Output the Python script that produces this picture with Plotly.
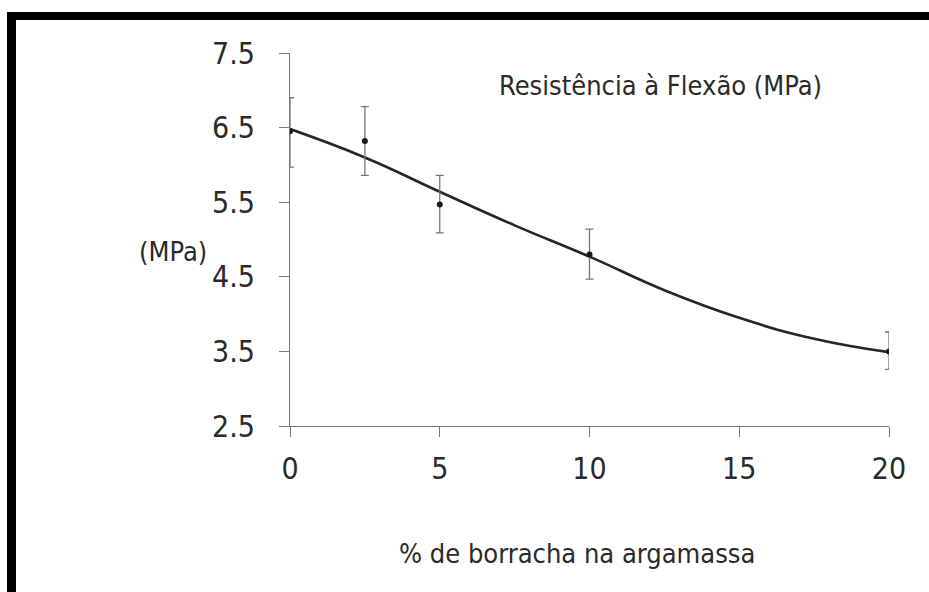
import plotly.graph_objects as go

# ---- data ----
pct_points = [0, 2.5, 5, 10, 20]
strength_mean = [6.45, 6.32, 5.47, 4.80, 3.50]
err_plus = [0.45, 0.46, 0.39, 0.34, 0.26]
err_minus = [0.48, 0.46, 0.38, 0.33, 0.24]

curve_x = [0, 2.5, 5, 7.5, 10, 12.5, 15, 17.5, 20]
curve_y = [6.48, 6.10, 5.64, 5.19, 4.77, 4.32, 3.95, 3.67, 3.49]

y_ticks = [2.5, 3.5, 4.5, 5.5, 6.5, 7.5]
y_ticktext = ["2.5", "3.5", "4.5", "5.5", "6.5", "7.5"]
x_ticks = [0, 5, 10, 15, 20]
x_ticktext = ["0", "5", "10", "15", "20"]

title_text = "Resistência à Flexão (MPa)"
y_label = "(MPa)"
x_label = "% de borracha na argamassa"

# ---- layout geometry (pixels) ----
W, H = 929, 592
L, R, T, B = 290, 40, 53, 166
pw, ph = W - L - R, H - T - B


def px(p):
    return (p - L) / pw


def py(q):
    return (H - B - q) / ph


FONT = "DejaVu Sans Condensed, Liberation Sans Narrow, sans-serif"
TICKFONT = "Liberation Sans Narrow, DejaVu Sans Condensed, sans-serif"
TXT = "#2a2a2a"

fig = go.Figure()
fig.add_trace(go.Scatter(
    x=curve_x, y=curve_y, mode="lines",
    line=dict(color="#262626", width=2.6, shape="spline", smoothing=1.3),
    hoverinfo="skip", showlegend=False))
fig.add_trace(go.Scatter(
    x=pct_points, y=strength_mean, mode="markers",
    marker=dict(color="#1a1a1a", size=6),
    error_y=dict(type="data", symmetric=False, array=err_plus, arrayminus=err_minus,
                 color="#777777", thickness=1.3, width=4),
    showlegend=False))

axis_common = dict(showgrid=False, zeroline=False, showline=True, linecolor="#777777",
                   linewidth=1, ticks="outside", tickcolor="#777777", ticklen=10,
                   tickfont=dict(family=TICKFONT, size=30, color=TXT))
fig.update_xaxes(range=[0, 20], tickvals=x_ticks, ticktext=x_ticktext,
                 ticklabelstandoff=6, **axis_common)
fig.update_yaxes(range=[2.5, 7.5], tickvals=y_ticks, ticktext=y_ticktext,
                 ticklabelstandoff=18, **axis_common)

fig.add_annotation(text=title_text, xref="paper", yref="paper", x=px(497), y=py(86),
                   xanchor="left", yanchor="middle", showarrow=False,
                   font=dict(family=FONT, size=27, color=TXT))
fig.add_annotation(text=y_label, xref="paper", yref="paper", x=px(209), y=py(251),
                   xanchor="right", yanchor="middle", showarrow=False,
                   font=dict(family=FONT, size=27, color=TXT))
fig.add_annotation(text=x_label, xref="paper", yref="paper", x=px(577), y=py(553),
                   xanchor="center", yanchor="middle", showarrow=False,
                   font=dict(family=FONT, size=27, color=TXT))

# frame (top and left black borders)
fig.add_shape(type="rect", xref="paper", yref="paper", x0=px(7), x1=px(16), y0=py(600), y1=py(12),
              fillcolor="black", line=dict(width=0), layer="above")
fig.add_shape(type="rect", xref="paper", yref="paper", x0=px(7), x1=px(935), y0=py(20), y1=py(12),
              fillcolor="black", line=dict(width=0), layer="above")

fig.update_layout(width=W, height=H, margin=dict(l=L, r=R, t=T, b=B),
                  paper_bgcolor="white", plot_bgcolor="white", showlegend=False)

fig.write_html("out.html")
